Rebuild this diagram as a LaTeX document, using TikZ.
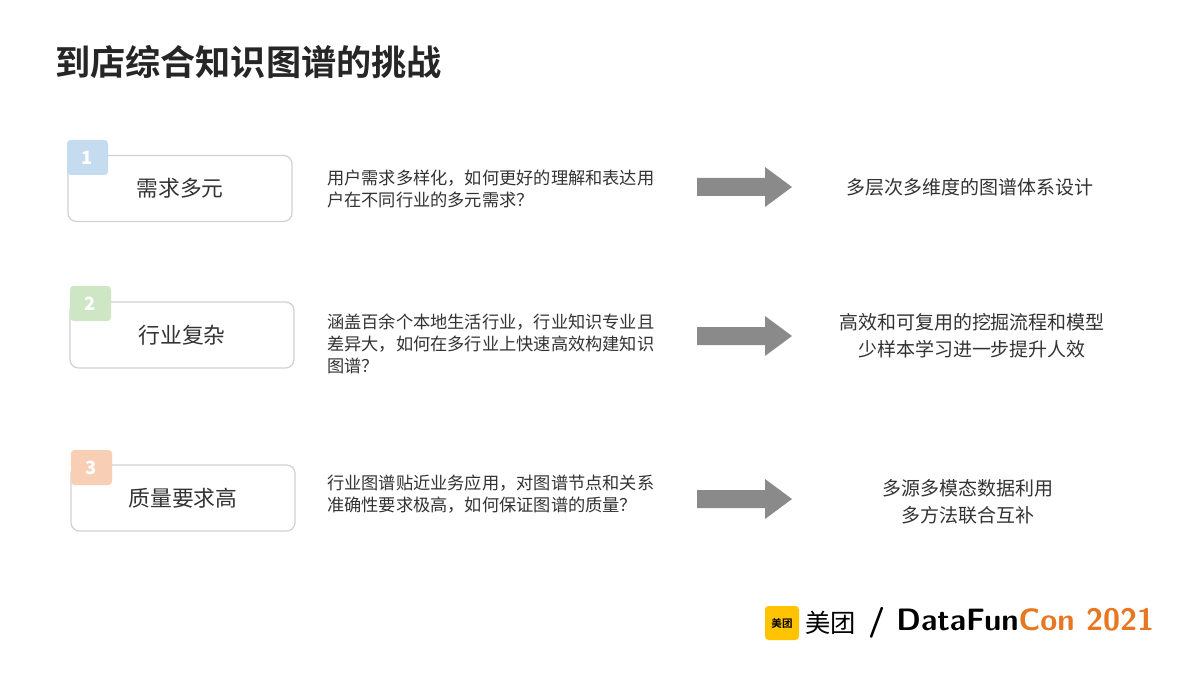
\documentclass[tikz,border=0pt]{standalone}
\usepackage{fontspec}
\setmainfont{Noto Sans CJK SC}
\newfontfamily\cjkb[BoldFont={* Bold}]{Noto Sans CJK SC}
\definecolor{tg}{HTML}{333333}
\definecolor{ag}{HTML}{8A8A8A}
\definecolor{bblue}{HTML}{C5DBF0}
\definecolor{bgreen}{HTML}{CFE6C4}
\definecolor{bpeach}{HTML}{F8CFB5}
\definecolor{logoorange}{HTML}{E87722}
\definecolor{logoyellow}{HTML}{FFC300}
\tikzset{
  box/.style={draw=black!18,line width=1.8pt,rounded corners=12pt,fill=white,minimum width=224*0.05cm,minimum height=66*0.05cm,font=\fontsize{31}{35}\selectfont,text=tg},
  badge/.style={rounded corners=5pt,minimum width=41*0.05cm,minimum height=35*0.05cm,font=\fontsize{26}{30}\selectfont\bfseries,text=white,inner sep=0pt},
  desc/.style={anchor=west,align=left,font=\fontsize{24.5}{31}\selectfont,text=tg,inner sep=0pt},
  res/.style={align=center,font=\fontsize{27}{39}\selectfont,text=tg,inner sep=0pt},
  arr/.style={fill=ag}
}
\newcommand\bigarrow[1]{\fill[arr] ($(#1)+(-47.5,-9)$) -- ++(68,0) -- ++(0,-11) -- ++(27,20) -- ++(-27,20) -- ++(0,-11) -- ++(-68,0) -- cycle;}
\usetikzlibrary{calc}
\begin{document}
\begin{tikzpicture}[x=0.05cm,y=-0.05cm]
\useasboundingbox[fill=white] (0,0) rectangle (1200,675);
\node[anchor=west,font=\fontsize{50}{53}\selectfont\cjkb\bfseries,text=black!85,inner sep=0pt] (title) at (55,62) {到店综合知识图谱的挑战};
% row 1
\node[box] (n1) at (180,188.5) {需求多元};
\node[badge,fill=bblue] (b1) at (87.5,157.5) {1};
\node[desc] (d1) at (327,189) {用户需求多样化，如何更好的理解和表达用\\户在不同行业的多元需求？};
\coordinate (a1) at (744.5,187); \bigarrow{a1}
\node[res] (r1) at (970,187) {多层次多维度的图谱体系设计};
% row 2
\node[box] (n2) at (182,335) {行业复杂};
\node[badge,fill=bgreen] (b2) at (90.5,303.5) {2};
\node[desc] (d2) at (327,344) {涵盖百余个本地生活行业，行业知识专业且\\差异大，如何在多行业上快速高效构建知识\\图谱？};
\coordinate (a2) at (744.5,336); \bigarrow{a2}
\node[res] (r2) at (972,336) {高效和可复用的挖掘流程和模型\\少样本学习进一步提升人效};
% row 3
\node[box] (n3) at (183,498) {质量要求高};
\node[badge,fill=bpeach] (b3) at (91.5,467.5) {3};
\node[desc] (d3) at (327,494) {行业图谱贴近业务应用，对图谱节点和关系\\准确性要求极高，如何保证图谱的质量？};
\coordinate (a3) at (744.5,499); \bigarrow{a3}
\node[res] (r3) at (968,502) {多源多模态数据利用\\多方法联合互补};
% logo
\node[fill=logoyellow,rounded corners=5pt,minimum width=34*0.05cm,minimum height=34*0.05cm,inner sep=0pt,font=\fontsize{15}{15}\selectfont\cjkb\bfseries] (logo) at (782,623) {美团};
\node[anchor=west,inner sep=0pt,font=\fontsize{36}{38}\selectfont] (mt) at (805,623) {美团};
\node[anchor=west,inner sep=0pt,font=\fontsize{44}{46}\selectfont\sffamily\bfseries] (dfc) at (868,623) {/ DataFun\textcolor{logoorange}{Con 2021}};
\end{tikzpicture}
\end{document}
